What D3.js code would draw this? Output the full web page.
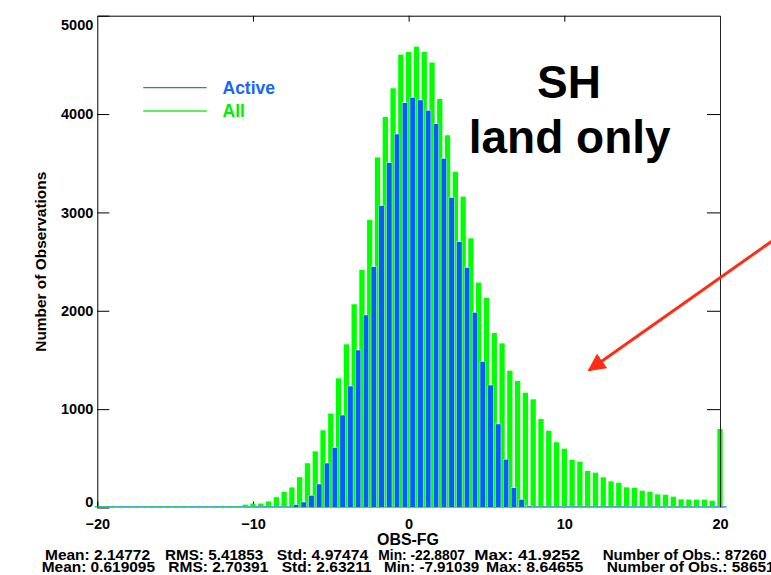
<!DOCTYPE html>
<html>
<head>
<meta charset="utf-8">
<script src="https://cdn.jsdelivr.net/npm/d3@7"></script>
<style>
  body { margin: 0; background: #fff; overflow: hidden; }
  svg { display: block; font-family: "Liberation Sans", Arial, Helvetica, sans-serif; }
</style>
</head>
<body>
<svg id="chart" width="771" height="575"></svg>
<script>
// bin centres (OBS-FG), 0.5 wide, -20 .. 20
const binCenters = [
  -20, -19.5, -19, -18.5, -18, -17.5, -17, -16.5, -16, -15.5, -15, -14.5, -14, -13.5,
  -13, -12.5, -12, -11.5, -11, -10.5, -10, -9.5, -9, -8.5, -8, -7.5, -7, -6.5,
  -6, -5.5, -5, -4.5, -4, -3.5, -3, -2.5, -2, -1.5, -1, -0.5, 0, 0.5,
  1, 1.5, 2, 2.5, 3, 3.5, 4, 4.5, 5, 5.5, 6, 6.5, 7, 7.5,
  8, 8.5, 9, 9.5, 10, 10.5, 11, 11.5, 12, 12.5, 13, 13.5, 14, 14.5,
  15, 15.5, 16, 16.5, 17, 17.5, 18, 18.5, 19, 19.5, 20
];
// "All" observations (green)
const allCounts = [
  0, 0, 0, 0, 0, 0, 0, 0, 0, 0, 0, 0, 0, 0,
  12, 2, 3, 13, 15, 29, 40, 40, 62, 105, 160, 204, 309, 450,
  571, 785, 955, 1313, 1659, 2066, 2415, 2923, 3560, 3970, 4262, 4604, 4631, 4685,
  4631, 4524, 4153, 3784, 3414, 3160, 2737, 2286, 2133, 1774, 1669, 1391, 1286, 1167,
  1100, 900, 781, 663, 598, 483, 466, 371, 354, 307, 266, 252, 205, 201,
  171, 161, 134, 130, 110, 83, 80, 80, 80, 69, 798
];
// "Active" observations (blue)
const activeCounts = [
  0, 0, 0, 0, 0, 0, 0, 0, 0, 0, 0, 0, 0, 0,
  0, 0, 0, 0, 0, 0, 0, 0, 0, 0, 0, 30, 56, 124,
  239, 452, 610, 940, 1235, 1601, 1957, 2448, 3070, 3506, 3797, 4115, 4170, 4143,
  4038, 3902, 3550, 3152, 2702, 2440, 1984, 1485, 1245, 849, 491, 201, 83, 15,
  0, 0, 0, 0, 0, 0, 0, 0, 0, 0, 0, 0, 0, 0,
  0, 0, 0, 0, 0, 0, 0, 0, 0, 0, 0
];
const xTicks = [-20, -10, 0, 10, 20];
const yTicks = [0, 1000, 2000, 3000, 4000, 5000];
const seriesNames = ["Active", "All"];
const statsAll = ["Mean: 2.14772", "RMS: 5.41853", "Std: 4.97474", "Min: -22.8807", "Max: 41.9252", "Number of Obs.: 87260"];
const statsActive = ["Mean: 0.619095", "RMS: 2.70391", "Std: 2.63211", "Min: -7.91039", "Max: 8.64655", "Number of Obs.: 58651"];

const GREEN = "#00ff00", BLUE = "#0a5cff";
const svg = d3.select("#chart");
const L = 97.3, R = 720, T = 15.7, B = 507.5;
const x = d3.scaleLinear().domain([-20, 20]).range([L, R]);
const y = d3.scaleLinear().domain([0, 5000]).range([B, T]);

const bins = binCenters.map((c, i) => ({ c, all: allCounts[i], act: activeCounts[i] }));

// bottom ticks sit under the bars
const gx = svg.append("g").attr("transform", `translate(0,${B})`)
  .call(d3.axisBottom(x).tickValues(xTicks).tickSizeInner(-6).tickSizeOuter(0).tickPadding(11).tickFormat(d3.format("d")));
gx.select(".domain").remove();
gx.selectAll("text").style("font-size", "14.5px").style("font-weight", "bold").attr("fill", "#000");

// bars
const barH = v => Math.max(y(0) - y(v), 1.5);
svg.append("g").selectAll("rect").data(bins).join("rect")
  .attr("x", d => x(d.c - 0.17)).attr("width", x(0.34) - x(0))
  .attr("y", d => y(0) - barH(d.all)).attr("height", d => barH(d.all))
  .attr("fill", GREEN);
svg.append("g").selectAll("rect").data(bins).join("rect")
  .attr("x", d => x(d.c + 0.085)).attr("width", x(0.345) - x(0))
  .attr("y", d => y(0) - barH(d.act)).attr("height", d => barH(d.act))
  .attr("fill", d => d.act > 0 ? BLUE : "#5f98ff")
  .attr("stroke", d => d.act > 0 ? "#fff" : "none").attr("stroke-width", 0.4);

// left axis
const gy = svg.append("g").attr("transform", `translate(${L},0)`)
  .call(d3.axisLeft(y).tickValues(yTicks).tickSizeInner(-12).tickSizeOuter(0).tickPadding(4).tickFormat(d3.format("d")));
gy.selectAll("text").style("font-size", "14.5px").style("font-weight", "bold").attr("fill", "#000")
  .attr("dy", d => d === 5000 ? "0.95em" : d === 0 ? "-0.05em" : "0.32em");
gy.select(".domain").attr("stroke", "#000");

// right axis
const gr = svg.append("g").attr("transform", `translate(${R},0)`)
  .call(d3.axisRight(y).tickValues(yTicks.slice(1, -1)).tickSizeInner(-13).tickSizeOuter(0).tickFormat(""));
gr.select(".domain").attr("stroke", "#222");

// top axis
const gt = svg.append("g").attr("transform", `translate(0,${T})`)
  .call(d3.axisTop(x).tickValues([-10, 0, 10]).tickSizeInner(-6).tickSizeOuter(0).tickFormat(""));
gt.select(".domain").attr("stroke", "#000");

// baseline
svg.append("line").attr("x1", L).attr("x2", R + 5).attr("y1", B).attr("y2", B)
  .attr("stroke", "#5f98ff").attr("stroke-width", 1).attr("opacity", 0.7);

// axis titles
svg.append("text").attr("transform", "translate(46,261.7) rotate(-90)")
  .attr("text-anchor", "middle").style("font-size", "15px").style("font-weight", "bold")
  .attr("textLength", 180).attr("lengthAdjust", "spacingAndGlyphs")
  .text("Number of Observations");
svg.append("text").attr("x", 408).attr("y", 545).attr("text-anchor", "middle")
  .style("font-size", "16px").style("font-weight", "bold")
  .attr("textLength", 62).attr("lengthAdjust", "spacingAndGlyphs").text("OBS-FG");

// legend
const legend = svg.append("g");
seriesNames.forEach((name, i) => {
  const ly = 87.7 + i * 23.3;
  const col = i === 0 ? "#2f72ff" : "#22ee22";
  legend.append("line").attr("x1", 143.3).attr("x2", 206.7).attr("y1", ly).attr("y2", ly)
    .attr("stroke", col).attr("stroke-width", 1.3);
  legend.append("text").attr("x", 222.5).attr("y", ly + 6.3)
    .style("font-size", "17.5px").style("font-weight", "bold")
    .attr("fill", i === 0 ? "#1565ff" : "#00ee00").text(name);
});

// panel label
svg.append("text").attr("x", 569).attr("y", 98.3).attr("text-anchor", "middle")
  .style("font-size", "46px").style("font-weight", "bold").text("SH");
svg.append("text").attr("x", 569.7).attr("y", 153.3).attr("text-anchor", "middle")
  .style("font-size", "46px").style("font-weight", "bold").text("land only");

// arrow
svg.append("defs").append("marker").attr("id", "ah").attr("viewBox", "0 0 10 10")
  .attr("refX", 9).attr("refY", 5).attr("markerWidth", 6).attr("markerHeight", 6)
  .attr("markerUnits", "strokeWidth").attr("orient", "auto")
  .append("path").attr("d", "M0,0 L10,5 L0,10 Z").attr("fill", "#ff2d16");
svg.append("line").attr("x1", 775).attr("y1", 239).attr("x2", 589).attr("y2", 370.3)
  .attr("stroke", "#ff2d16").attr("stroke-width", 3).attr("marker-end", "url(#ah)");

// statistics lines
const statsX1 = [[45, 105], [165, 98.3], [276.7, 91.6], [378.3, 86.7], [474.3, 105.7], [602.7, 164]];
const statsX2 = [[41.7, 113.3], [168.3, 100], [281.7, 90], [384, 95.3], [486, 97.3], [606.7, 168]];
[[statsAll, statsX1, 560], [statsActive, statsX2, 571.5]].forEach(([txt, pos, by]) => {
  svg.append("g").selectAll("text").data(txt).join("text")
    .attr("x", (d, i) => pos[i][0]).attr("y", by)
    .attr("textLength", (d, i) => pos[i][1]).attr("lengthAdjust", "spacingAndGlyphs")
    .style("font-size", "15.5px").style("font-weight", "bold").text(d => d);
});
</script>
</body>
</html>
